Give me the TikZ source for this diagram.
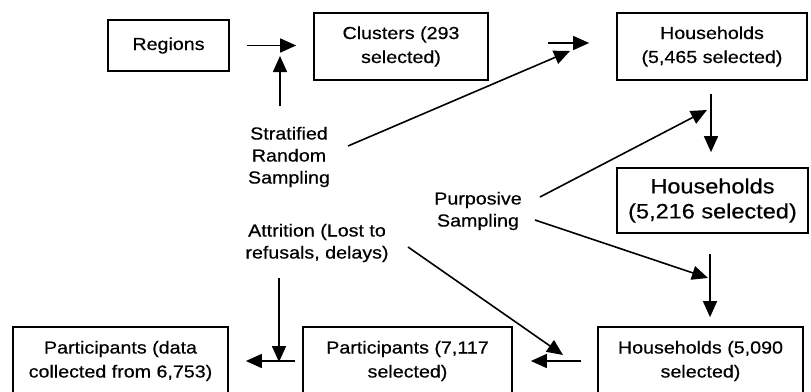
\documentclass[tikz,border=0pt]{standalone}
\usepackage{fontspec}
\setmainfont[FakeStretch=1.13,FakeBold=0.5]{Liberation Sans}
\usetikzlibrary{arrows.meta}
\newcommand\bxfont{\fontsize{17.4}{24}\selectfont}
\newcommand\bigbxfont{\fontsize{20.8}{25}\selectfont}
\newcommand\lblfont{\fontsize{17.4}{22}\selectfont}
\begin{document}
\begin{tikzpicture}[x=1pt,y=-1pt,
  box/.style={draw, line width=1.7pt, inner sep=0pt, align=center, font=\bxfont},
  lbl/.style={inner sep=0pt, align=center, font=\lblfont},
  arr/.style={line width=1.6pt, -{Triangle[length=16pt,width=14pt]}}]
\useasboundingbox (0,0) rectangle (811,391);
\clip (0,0) rectangle (811,391);
% boxes
\node[box, minimum width=121, minimum height=51] (regions) at (168.5,45.5) {Regions};
\node[box, minimum width=174, minimum height=67] (clusters) at (401,46.5) {Clusters (293\\selected)};
\node[box, minimum width=190, minimum height=67] (hh1) at (712,46.5) {Households\\(5,465 selected)};
\node[box, minimum width=191, minimum height=65, font=\bigbxfont] (hh2) at (712.5,200.5) {Households\\(5,216 selected)};
\node[box, minimum width=205, minimum height=68] (hh3) at (700.5,361) {Households (5,090\\selected)};
\node[box, minimum width=209, minimum height=68] (p1) at (407.5,361) {Participants (7,117\\selected)};
\node[box, minimum width=215, minimum height=68] (p2) at (120.5,361) {Participants (data\\collected from 6,753)};
% labels
\node[lbl] (strat) at (289,157) {Stratified\\Random\\Sampling};
\node[lbl] (purp) at (478,211) {Purposive\\Sampling};
\node[lbl] (attr) at (317,243) {Attrition (Lost to\\refusals, delays)};
% free ends
\coordinate (s1) at (280,106);
\coordinate (t1) at (280,56);
\coordinate (s2) at (348,146);
\coordinate (t2) at (570,51);
\coordinate (s3) at (540,197);
\coordinate (t3) at (707,110);
\coordinate (s4) at (535,220);
\coordinate (t4) at (708,278);
\coordinate (s5) at (408,247);
\coordinate (t5) at (563,355);
\coordinate (s6) at (279,278);
\coordinate (t6) at (279,362);
% box-to-box arrows
\draw[arr, shorten <=17pt, shorten >=17pt] (regions.east) -- (regions.east -| clusters.west);
\draw[arr, shorten <=59pt, shorten >=27pt] ([yshift=3.5pt]clusters.east) -- ([yshift=3.5pt]clusters.east -| hh1.west);
\draw[arr, shorten <=13pt, shorten >=15pt] ([xshift=-1pt]hh1.south) -- ([xshift=-1pt]hh1.south |- hh2.north);
\draw[arr, shorten <=20pt, shorten >=9pt] ([xshift=-2.5pt]hh2.south) -- ([xshift=-2.5pt]hh2.south |- hh3.north);
\draw[arr, shorten <=16pt, shorten >=18pt] (hh3.west) -- (hh3.west -| p1.east);
\draw[arr, shorten <=7pt, shorten >=17pt] (p1.west) -- (p1.west -| p2.east);
% label arrows
\draw[arr] (s1) -- (t1);
\draw[arr] (s2) -- (t2);
\draw[arr] (s3) -- (t3);
\draw[arr] (s4) -- (t4);
\draw[arr] (s5) -- (t5);
\draw[arr] (s6) -- (t6);
\end{tikzpicture}
\end{document}
